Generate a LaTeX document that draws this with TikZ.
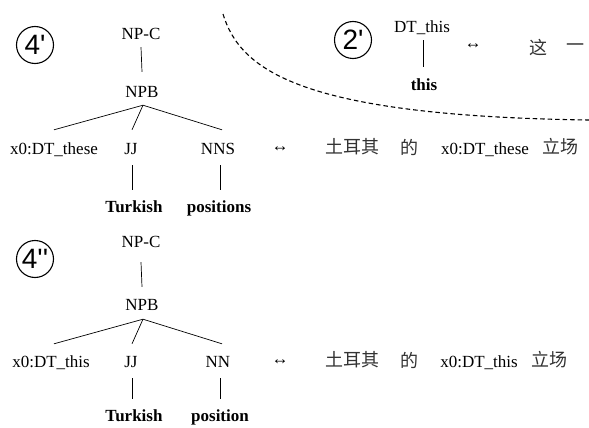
\documentclass[tikz,border=0pt]{standalone}
\usepackage{fontspec}
\setmainfont{Liberation Serif}
\newfontfamily\cjk{Noto Sans CJK SC}
\newfontfamily\circfont[Ligatures=TeXOff]{Liberation Sans}
\newcommand{\trm}{\fontsize{17}{20}\selectfont}
\newcommand{\zhsize}{\fontsize{18}{20}\selectfont}

\tikzset{
  lbl/.style={font=\trm, inner sep=0pt, anchor=base, text height=12pt, text depth=3pt},
  leaf/.style={lbl, font=\trm\bfseries},
  zh/.style={font=\cjk\zhsize, inner sep=0pt, text=black!80},
  swap/.style={font=\trm, inner sep=0pt},
  badge/.style={circle, draw, line width=1.1pt, minimum size=37pt, inner sep=0pt,
                font=\circfont\fontsize{28}{28}\selectfont},
  branch/.style={line width=0.7pt},
  fold/.style={line width=1.1pt, dash pattern=on 4.5pt off 3pt}
}

\begin{document}
\begin{tikzpicture}[x=1pt,y=-1pt]
\useasboundingbox (0,0) rectangle (589,428);

% ---- rule 4': tree for "these Turkish positions"
\node[badge] (cA) at (35,45) {4'};
\node[lbl] (npcA) at (141,40) {NP-C};
\node[lbl] (npbA) at (142,97) {NPB};
\node[lbl] (xA)   at (54,154)  {x0:DT\_these};
\node[lbl] (jjA)  at (131,154) {JJ};
\node[lbl] (nnsA) at (218,154) {NNS};
\node[leaf] (turkA) at (134,212) {Turkish};
\node[leaf] (posA)  at (219,212) {positions};
\node[swap] (arA) at (280,149) {↔};

\draw[branch] ([yshift=-4pt]npcA.south) -- ([yshift=13pt]npbA.north);
\draw[branch] ([xshift=1pt,yshift=-5pt]npbA.south) -- ([yshift=12pt]xA.north);
\draw[branch] ([xshift=1pt,yshift=-5pt]npbA.south) -- ([xshift=1pt,yshift=12pt]jjA.north);
\draw[branch] ([xshift=1pt,yshift=-5pt]npbA.south) -- ([xshift=4pt,yshift=12pt]nnsA.north);
\draw[branch] ([xshift=1pt,yshift=-8pt]jjA.south) -- ([xshift=1pt,yshift=10pt]jjA.south |- turkA.north);
\draw[branch] ([xshift=2pt,yshift=-8pt]nnsA.south) -- ([xshift=2pt,yshift=10pt]nnsA.south |- posA.north);

% Chinese side of rule 4'
\node[zh] (zA1) at (352,147) {土耳其};
\node[zh] (zA2) at (409,147) {的};
\node[lbl] (zA3) at (485,154) {x0:DT\_these};
\node[zh] (zA4) at (560,147) {立场};

% ---- rule 2': "this"
\node[badge] (cB) at (353,40) {2'};
\node[lbl] (dtB) at (422,33) {DT\_this};
\node[leaf] (thisB) at (424,90) {this};
\node[swap] (arB) at (473,46) {↔};
\node[zh] (zB1) at (538,48) {这};
\node[zh] (zB2) at (575,48) {一};
\draw[branch] ([xshift=1pt,yshift=-4pt]dtB.south) -- ([xshift=1pt,yshift=11pt]dtB.south |- thisB.north);

% dashed boundary around rule 2'
\draw[fold] (223,14) .. controls (240,70) and (300,116) .. (589,120);

% ---- rule 4'': tree for "this Turkish position"
\node[badge] (cC) at (35,259) {4''};
\node[lbl] (npcC) at (141,247) {NP-C};
\node[lbl] (npbC) at (142,310) {NPB};
\node[lbl] (xC)   at (51,367)  {x0:DT\_this};
\node[lbl] (jjC)  at (131,367) {JJ};
\node[lbl] (nnC)  at (218,367) {NN};
\node[leaf] (turkC) at (134,421) {Turkish};
\node[leaf] (posC)  at (220,421) {position};
\node[swap] (arC) at (280,362) {↔};

\draw[branch] ([yshift=-12pt]npcC.south) -- ([yshift=11pt]npbC.north);
\draw[branch] ([xshift=1pt,yshift=-6pt]npbC.south) -- ([xshift=3pt,yshift=11pt]xC.north);
\draw[branch] ([xshift=1pt,yshift=-6pt]npbC.south) -- ([xshift=1pt,yshift=11pt]jjC.north);
\draw[branch] ([xshift=1pt,yshift=-6pt]npbC.south) -- ([xshift=4pt,yshift=11pt]nnC.north);
\draw[branch] ([xshift=1pt,yshift=-8pt]jjC.south) -- ([xshift=1pt,yshift=10pt]jjC.south |- turkC.north);
\draw[branch] ([xshift=2pt,yshift=-8pt]nnC.south) -- ([xshift=2pt,yshift=10pt]nnC.south |- posC.north);

% Chinese side of rule 4''
\node[zh] (zC1) at (352,360) {土耳其};
\node[zh] (zC2) at (409,360) {的};
\node[lbl] (zC3) at (479,367) {x0:DT\_this};
\node[zh] (zC4) at (549,360) {立场};
\end{tikzpicture}
\end{document}
